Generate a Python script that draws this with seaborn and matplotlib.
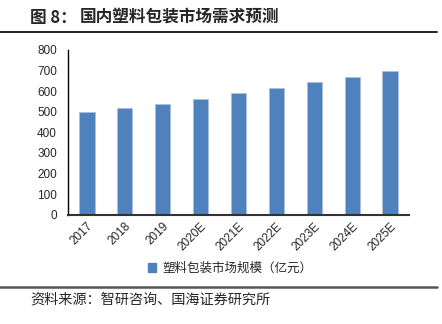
import matplotlib
matplotlib.use("Agg")
import matplotlib.pyplot as plt
import seaborn as sns
import pandas as pd
from matplotlib.patches import Patch
from matplotlib.lines import Line2D

years = ["2017", "2018", "2019", "2020E", "2021E", "2022E", "2023E", "2024E", "2025E"]
values = [497, 520, 538, 562, 592, 613, 644, 667, 698]
series_name = "塑料包装市场规模（亿元）"
title = "图 8：国内塑料包装市场需求预测"
source = "资料来源：智研咨询、国海证券研究所"
yticks = [0, 100, 200, 300, 400, 500, 600, 700, 800]

sns.set_style("white")
plt.rcParams['font.family'] = ['Liberation Sans', 'Noto Sans CJK SC', 'DejaVu Sans']

df = pd.DataFrame({"year": years, "value": values})

fig = plt.figure(figsize=(4.42, 3.24), dpi=100)
ax = fig.add_axes([68/442, 1-214.7/324, (409-68)/442, (214.7-50)/324])
sns.barplot(data=df, x="year", y="value", color="#4F81BD", width=0.4,
            saturation=1, ax=ax, edgecolor="#A9C0DE", linewidth=0.6)
ax.set_ylim(0, 800)
ax.set_yticks(yticks)
ax.set_yticklabels([str(t) for t in yticks], fontsize=8.5)
ax.set_xlim(-0.5, len(years)-0.5)
ax.set_xlabel("")
ax.set_ylabel("")
ax.set_xticks(range(len(years)))
ax.set_xticklabels(years, rotation=45, ha="right", rotation_mode="anchor", fontsize=8.5)
ax.tick_params(axis="y", length=0, pad=8)
ax.tick_params(axis="x", length=0, pad=4)
for s in ["top", "right"]:
    ax.spines[s].set_visible(False)
ax.spines["left"].set_color("#000000")
ax.spines["bottom"].set_color("#333333")
ax.spines["left"].set_linewidth(1.0)
ax.spines["bottom"].set_linewidth(1.5)

handle = Patch(facecolor="#4F81BD", edgecolor="#4F81BD")
fig.legend([handle], [series_name], loc="center", bbox_to_anchor=(230/442, 1-268/324),
           frameon=False, handlelength=0.7, handleheight=0.7, handletextpad=0.5,
           prop={'family': ['Noto Sans CJK SC'], 'size': 9})

fig.text(30/442, 1-18/324, "图 8：", fontsize=12, fontweight="bold", va="center", ha="left",
         family=['Noto Sans CJK SC', 'DejaVu Sans'])
fig.text(80/442, 1-18/324, title.split("：")[1], fontsize=12, fontweight="bold", va="center", ha="left",
         family=['Noto Sans CJK SC', 'DejaVu Sans'])
fig.add_artist(Line2D([0, 437/442], [1-31.5/324, 1-31.5/324], color="#222222", linewidth=1.4))
fig.add_artist(Line2D([0, 437/442], [1-287/324, 1-287/324], color="#555555", linewidth=1.8))
fig.text(30/442, 1-300/324, source, fontsize=10.2, va="center", ha="left",
         family=['Noto Sans CJK SC', 'DejaVu Sans'])

fig.savefig("out.png", dpi=100)
